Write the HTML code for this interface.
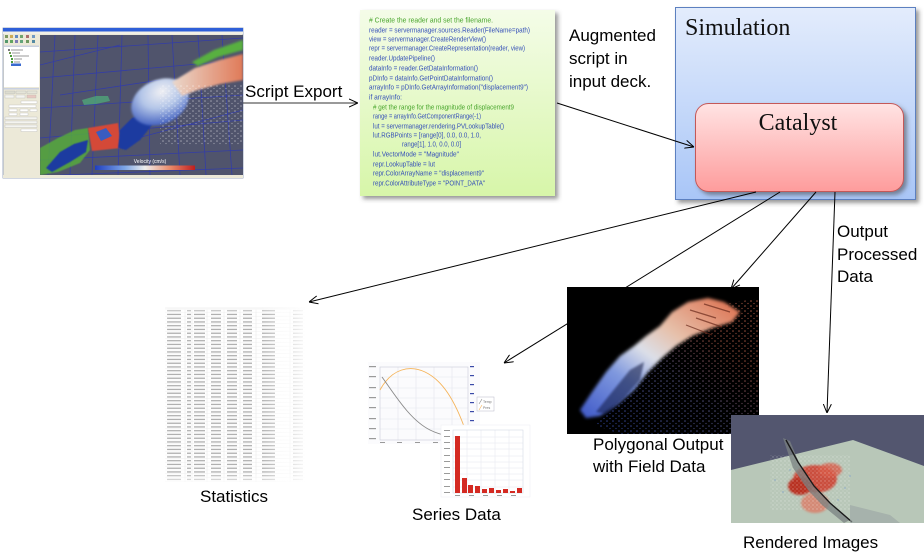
<!DOCTYPE html>
<html><head><meta charset="utf-8"><style>
html,body{margin:0;padding:0;background:#fff;}
svg{display:block;}
</style></head><body>
<svg width="924" height="558" viewBox="0 0 924 558" xmlns="http://www.w3.org/2000/svg">
<defs>
  <marker id="ah" viewBox="0 0 10 10" refX="10" refY="5" markerWidth="9" markerHeight="9" orient="auto" markerUnits="userSpaceOnUse">
    <path d="M0,0.5 L10,5 L0,9.5" fill="none" stroke="#000" stroke-width="1.1"/>
  </marker>
  <filter id="sh" x="-10%" y="-10%" width="130%" height="130%">
    <feDropShadow dx="3" dy="3" stdDeviation="2" flood-color="#444" flood-opacity="0.55"/>
  </filter>
  <filter id="b1"><feGaussianBlur stdDeviation="1"/></filter>
  <filter id="b15"><feGaussianBlur stdDeviation="1.6"/></filter>
  <filter id="b2"><feGaussianBlur stdDeviation="2"/></filter>
  <filter id="b05"><feGaussianBlur stdDeviation="0.4"/></filter>
  <linearGradient id="simG" x1="0" y1="0" x2="0" y2="1">
    <stop offset="0" stop-color="#e3ecfc"/><stop offset="1" stop-color="#a9c6f7"/>
  </linearGradient>
  <linearGradient id="catG" x1="0" y1="0" x2="0" y2="1">
    <stop offset="0" stop-color="#ffe3e3"/><stop offset="1" stop-color="#fe9c9c"/>
  </linearGradient>
  <linearGradient id="codeG" x1="0" y1="0" x2="0" y2="1">
    <stop offset="0" stop-color="#f4fce8"/><stop offset="1" stop-color="#d7f6a9"/>
  </linearGradient>
  <linearGradient id="velG" x1="0" y1="0" x2="1" y2="0">
    <stop offset="0" stop-color="#1f3fc0"/><stop offset="0.3" stop-color="#7ea6e6"/><stop offset="0.5" stop-color="#eeeeee"/><stop offset="0.75" stop-color="#e88a6a"/><stop offset="1" stop-color="#c01e1e"/>
  </linearGradient>
  <radialGradient id="domeG" cx="0.6" cy="0.3" r="0.8">
    <stop offset="0" stop-color="#f0f0f4"/><stop offset="0.45" stop-color="#b4c6e8"/><stop offset="1" stop-color="#2c4cb8"/>
  </radialGradient>
  <linearGradient id="topG" x1="0" y1="0" x2="1" y2="0">
    <stop offset="0" stop-color="#ead8cc"/><stop offset="1" stop-color="#e07a58"/>
  </linearGradient>
  <linearGradient id="polyG" x1="0" y1="1" x2="1" y2="0">
    <stop offset="0" stop-color="#3e58c8"/><stop offset="0.3" stop-color="#7f98de"/><stop offset="0.48" stop-color="#dcdfe8"/><stop offset="0.65" stop-color="#e6c0aa"/><stop offset="1" stop-color="#dc6a48"/>
  </linearGradient>
  <linearGradient id="dotG" x1="0" y1="1" x2="1" y2="0">
    <stop offset="0" stop-color="#3a58d0"/><stop offset="0.45" stop-color="#7070a8"/><stop offset="0.7" stop-color="#c86a54"/><stop offset="1" stop-color="#f08060"/>
  </linearGradient>
  <pattern id="dots" x="0" y="0" width="6" height="5" patternUnits="userSpaceOnUse">
    <circle cx="1" cy="1" r="0.8" fill="#fff"/><circle cx="4" cy="3.5" r="0.6" fill="#fff"/>
  </pattern>
  <pattern id="dots2" x="0" y="0" width="4" height="4" patternUnits="userSpaceOnUse">
    <circle cx="1" cy="1" r="0.7" fill="#fff"/><circle cx="3" cy="3" r="0.5" fill="#fff"/>
  </pattern>
  <mask id="dotMask"><polygon points="595,425 670,345 720,305 760,298 760,434 620,434" fill="url(#dots)"/></mask>
  <pattern id="rows" x="165" y="309" width="140" height="3.75" patternUnits="userSpaceOnUse">
    <rect x="0" y="3.2" width="140" height="0.5" fill="#efefef"/>
    <rect x="2" y="1.1" width="14" height="1.2" fill="#a8a8a8"/>
    <rect x="22" y="1.1" width="4" height="1.2" fill="#a8a8a8"/>
    <rect x="29" y="1.1" width="11" height="1.2" fill="#a8a8a8"/>
    <rect x="46" y="1.1" width="10" height="1.2" fill="#a8a8a8"/>
    <rect x="62" y="1.1" width="10" height="1.2" fill="#a8a8a8"/>
    <rect x="78" y="1.1" width="9" height="1.2" fill="#a8a8a8"/>
    <rect x="97" y="1.1" width="13" height="1.2" fill="#a8a8a8"/>
    <rect x="128" y="1.1" width="10" height="1.2" fill="#a8a8a8"/>
  </pattern>
  <linearGradient id="fadeH" x1="0" y1="0" x2="1" y2="0">
    <stop offset="0" stop-color="#fff" stop-opacity="0.6"/><stop offset="0.06" stop-color="#fff" stop-opacity="1"/><stop offset="0.68" stop-color="#fff" stop-opacity="1"/><stop offset="1" stop-color="#fff" stop-opacity="0"/>
  </linearGradient>
  <linearGradient id="fadeV" x1="0" y1="0" x2="0" y2="1">
    <stop offset="0" stop-color="#fff" stop-opacity="0.3"/><stop offset="0.05" stop-color="#fff" stop-opacity="1"/><stop offset="0.93" stop-color="#fff" stop-opacity="1"/><stop offset="1" stop-color="#fff" stop-opacity="0.2"/>
  </linearGradient>
  <mask id="tabMaskV"><rect x="160" y="305" width="150" height="180" fill="url(#fadeV)"/></mask>
  <mask id="tabMaskH"><rect x="160" y="305" width="150" height="180" fill="url(#fadeH)"/></mask>
  <clipPath id="viewClip"><rect x="40" y="35" width="203" height="140"/></clipPath>
  <clipPath id="blackClip"><rect x="567" y="287" width="192" height="147"/></clipPath>
  <clipPath id="rendClip"><rect x="731" y="415" width="193" height="108"/></clipPath>
</defs>

<!-- ================= Left screenshot ================= -->
<g>
  <rect x="3" y="28" width="240" height="150" fill="#ece9d8" stroke="#8a98b8" stroke-width="0.8"/>
  <rect x="3" y="28" width="240" height="3.5" fill="#2e5fd8"/>
  <rect x="3" y="31.5" width="240" height="2.5" fill="#f2f0e6"/>
  <g opacity="0.85">
    <rect x="5" y="35" width="3" height="3" fill="#6a8a4a"/><rect x="10" y="35" width="3" height="3" fill="#c8a040"/><rect x="15" y="35" width="3" height="3" fill="#4a7ac0"/><rect x="20" y="35" width="3" height="3" fill="#5a9a5a"/><rect x="26" y="35" width="3" height="3" fill="#a05a5a"/><rect x="32" y="35" width="3" height="3" fill="#5a8ac0"/>
    <rect x="5" y="40" width="3" height="3" fill="#3a8a5a"/><rect x="10" y="40" width="3" height="3" fill="#4a9a4a"/><rect x="15" y="40" width="3" height="3" fill="#6a6ab0"/><rect x="20" y="40" width="3" height="3" fill="#4a9a6a"/><rect x="26" y="40" width="3" height="3" fill="#5a8a4a"/><rect x="32" y="40" width="3" height="3" fill="#3a7a9a"/>
  </g>
  <rect x="4" y="45.5" width="35" height="1.5" fill="#c8d0e0"/>
  <rect x="4" y="47" width="35" height="40" fill="#ffffff"/>
  <rect x="8" y="49" width="2" height="2" fill="#7a7a7a"/><rect x="11" y="49.5" width="12" height="1" fill="#9a9a9a"/>
  <rect x="9" y="52" width="2" height="2" fill="#6a9a4a"/><rect x="12" y="52.5" width="8" height="1" fill="#9a9a9a"/>
  <rect x="10" y="55" width="2" height="2" fill="#4a9a3a"/><rect x="13" y="55.5" width="16" height="1" fill="#9a9a9a"/>
  <rect x="11" y="58" width="2" height="2" fill="#4a9a3a"/><rect x="14" y="58.5" width="8" height="1" fill="#9a9a9a"/>
  <rect x="11" y="61" width="2" height="2" fill="#4a9a3a"/><rect x="14" y="61.5" width="6" height="1" fill="#9a9a9a"/>
  <rect x="11" y="63.5" width="10" height="2.5" fill="#3a6ad0"/>
  <rect x="4" y="88" width="35" height="1.5" fill="#c8d0e0"/>
  <rect x="5" y="91" width="10" height="2.5" fill="#dcdcd0" stroke="#aaa" stroke-width="0.3"/><rect x="16" y="91" width="10" height="2.5" fill="#e4e4d8" stroke="#aaa" stroke-width="0.3"/><rect x="27" y="91" width="10" height="2.5" fill="#e4e4d8" stroke="#aaa" stroke-width="0.3"/>
  <rect x="5" y="95" width="9" height="3" fill="#f4f4f0" stroke="#aaa" stroke-width="0.3"/><rect x="16" y="95" width="9" height="3" fill="#f4f4f0" stroke="#aaa" stroke-width="0.3"/><rect x="27" y="95" width="9" height="3" fill="#e8c8c0" stroke="#aaa" stroke-width="0.3"/>
  <rect x="21" y="101" width="16" height="2.5" fill="#fff" stroke="#aaa" stroke-width="0.3"/>
  <rect x="9" y="105" width="27" height="2.5" fill="#fff" stroke="#aaa" stroke-width="0.3"/>
  <rect x="9" y="109" width="8" height="2.5" fill="#fff" stroke="#aaa" stroke-width="0.3"/><rect x="20" y="109" width="8" height="2.5" fill="#fff" stroke="#aaa" stroke-width="0.3"/><rect x="30" y="109" width="7" height="2.5" fill="#fff" stroke="#aaa" stroke-width="0.3"/>
  <rect x="9" y="113" width="8" height="2.5" fill="#fff" stroke="#aaa" stroke-width="0.3"/><rect x="20" y="113" width="8" height="2.5" fill="#fff" stroke="#aaa" stroke-width="0.3"/>
  <rect x="5" y="117" width="32" height="2.5" fill="#f4f4f0" stroke="#aaa" stroke-width="0.3"/>
  <rect x="5" y="121" width="32" height="2.5" fill="#f4f4f0" stroke="#aaa" stroke-width="0.3"/>
  <rect x="5" y="125" width="32" height="2.5" fill="#f4f4f0" stroke="#aaa" stroke-width="0.3"/>
  <rect x="21" y="129" width="16" height="2.5" fill="#fff" stroke="#aaa" stroke-width="0.3"/>
  <!-- 3D view -->
  <rect x="40" y="35" width="203" height="140" fill="#50546c"/>
  <g clip-path="url(#viewClip)">
    <g stroke="#2f3ab0" stroke-width="0.8" opacity="0.85" fill="none">
      <path d="M40,52 L243,38"/><path d="M40,78 L243,60"/><path d="M40,108 L243,95"/><path d="M40,138 L243,120"/><path d="M40,160 L243,150"/><path d="M60,175 L243,168"/>
      <path d="M55,35 L48,175"/><path d="M75,35 L70,175"/><path d="M98,35 L92,175"/><path d="M122,35 L118,175"/><path d="M148,35 L150,175"/><path d="M172,35 L180,175"/><path d="M198,35 L206,175"/><path d="M222,35 L232,175"/>
      <path d="M40,65 L120,45"/><path d="M130,140 L243,110"/><path d="M60,95 L160,80"/>
    </g>
    <!-- green particle region -->
    <polygon points="40,148 58,138 75,130 88,128 90,150 80,163 58,172 40,175" fill="#56aa3e" opacity="0.85" filter="url(#b05)"/>
    <polygon points="46,168 60,152 74,144 88,140 86,152 70,162 52,172" fill="#1e3aa0" filter="url(#b05)"/>
    <polygon points="82,100 96,96 108,96 110,101 96,104 84,105" fill="#4eb07a" opacity="0.7"/>
    <polygon points="88,128 118,123 121,148 92,151" fill="#d44838" filter="url(#b05)"/>
    <polygon points="96,132 106,128 112,136 101,141" fill="#3a5cc0"/>
    <polygon points="118,148 120,130 132,118 148,112 152,125 140,140 126,150" fill="#1e3aa0" filter="url(#b05)"/>
    <!-- dome -->
    <ellipse cx="160" cy="102" rx="30" ry="22" fill="url(#domeG)" transform="rotate(-25 160 102)" filter="url(#b1)"/>
    <!-- orange/white top -->
    <polygon points="172,82 195,68 220,60 243,54 243,80 220,84 198,90 182,96" fill="url(#topG)" filter="url(#b1)"/>
    <polygon points="192,62 214,50 243,40 243,50 218,57 198,66" fill="#58b040" filter="url(#b1)"/>
    <rect x="160" y="85" width="83" height="60" fill="url(#dots)" opacity="0.45"/>
  </g>
  <rect x="95" y="165.5" width="100" height="4.5" fill="url(#velG)"/>
  <text x="150" y="163" font-family="Liberation Sans, sans-serif" font-size="5" fill="#fff" text-anchor="middle">Velocity (cm/s)</text>
  <rect x="3" y="175" width="240" height="3" fill="#ece9d8"/>
</g>

<!-- ================= Code box ================= -->
<rect x="360" y="10" width="195" height="186" fill="url(#codeG)" filter="url(#sh)"/>
<g font-family="Liberation Sans, sans-serif" font-size="7" fill="#3550b8">
  <text x="369" y="22.5" fill="#4aa62e" textLength="124" lengthAdjust="spacingAndGlyphs"># Create the reader and set the filename.</text>
  <text x="369" y="32.5" textLength="161" lengthAdjust="spacingAndGlyphs">reader = servermanager.sources.Reader(FileName=path)</text>
  <text x="369" y="41.5" textLength="117" lengthAdjust="spacingAndGlyphs">view = servermanager.CreateRenderView()</text>
  <text x="369" y="50.5" textLength="156" lengthAdjust="spacingAndGlyphs">repr = servermanager.CreateRepresentation(reader, view)</text>
  <text x="369" y="60.5" textLength="66" lengthAdjust="spacingAndGlyphs">reader.UpdatePipeline()</text>
  <text x="369" y="70.5" textLength="109" lengthAdjust="spacingAndGlyphs">dataInfo = reader.GetDataInformation()</text>
  <text x="369" y="80.5" textLength="124" lengthAdjust="spacingAndGlyphs">pDInfo = dataInfo.GetPointDataInformation()</text>
  <text x="369" y="89.5" textLength="159" lengthAdjust="spacingAndGlyphs">arrayInfo = pDInfo.GetArrayInformation("displacement9")</text>
  <text x="369" y="99.5" textLength="33" lengthAdjust="spacingAndGlyphs">if arrayInfo:</text>
  <text x="373" y="109.5" fill="#4aa62e" textLength="141" lengthAdjust="spacingAndGlyphs"># get the range for the magnitude of displacement9</text>
  <text x="373" y="118.5" textLength="108" lengthAdjust="spacingAndGlyphs">range = arrayInfo.GetComponentRange(-1)</text>
  <text x="373" y="128.5" textLength="131" lengthAdjust="spacingAndGlyphs">lut = servermanager.rendering.PVLookupTable()</text>
  <text x="373" y="137.5" textLength="108" lengthAdjust="spacingAndGlyphs">lut.RGBPoints  = [range[0], 0.0, 0.0, 1.0,</text>
  <text x="402" y="146.5" textLength="59" lengthAdjust="spacingAndGlyphs">range[1], 1.0, 0.0, 0.0]</text>
  <text x="373" y="156.5" textLength="86" lengthAdjust="spacingAndGlyphs">lut.VectorMode = "Magnitude"</text>
  <text x="373" y="166.5" textLength="62" lengthAdjust="spacingAndGlyphs">repr.LookupTable = lut</text>
  <text x="373" y="175.5" textLength="111" lengthAdjust="spacingAndGlyphs">repr.ColorArrayName = "displacement9"</text>
  <text x="373" y="185.5" textLength="112" lengthAdjust="spacingAndGlyphs">repr.ColorAttributeType = "POINT_DATA"</text>
</g>

<!-- ================= Simulation / Catalyst ================= -->
<rect x="675.5" y="7.5" width="240" height="192" fill="url(#simG)" stroke="#5b80c0" stroke-width="1" filter="url(#sh)"/>
<text x="685" y="35" font-family="Liberation Serif, serif" font-size="24" fill="#111">Simulation</text>
<rect x="695.5" y="103.5" width="208" height="88" rx="13" ry="13" fill="url(#catG)" stroke="#c45858" stroke-width="1" filter="url(#sh)"/>
<text x="798" y="130" font-family="Liberation Serif, serif" font-size="24" fill="#111" text-anchor="middle">Catalyst</text>

<!-- ================= Connectors ================= -->
<g stroke="#000" stroke-width="1" fill="none">
  <line x1="243" y1="103" x2="358" y2="103" stroke="#333" marker-end="url(#ah)"/>
  <line x1="557" y1="103" x2="694" y2="147" marker-end="url(#ah)"/>
  <line x1="756" y1="192" x2="309" y2="302" marker-end="url(#ah)"/>
  <line x1="780" y1="192" x2="504" y2="363" marker-end="url(#ah)"/>
  <line x1="816" y1="192" x2="731" y2="289" marker-end="url(#ah)"/>
  <line x1="835" y1="192" x2="827" y2="413" marker-end="url(#ah)"/>
</g>

<!-- ================= Statistics table ================= -->
<g mask="url(#tabMaskV)">
  <g mask="url(#tabMaskH)">
    <rect x="165" y="307" width="140" height="2.5" fill="#f0f0f0"/>
    <rect x="165" y="309" width="140" height="173" fill="url(#rows)"/>
    <g stroke="#e6e6e6" stroke-width="0.5">
      <line x1="185" y1="309" x2="185" y2="482"/><line x1="192" y1="309" x2="192" y2="482"/><line x1="207" y1="309" x2="207" y2="482"/><line x1="224" y1="309" x2="224" y2="482"/><line x1="240" y1="309" x2="240" y2="482"/><line x1="256" y1="309" x2="256" y2="482"/><line x1="290" y1="309" x2="290" y2="482"/>
    </g>
  </g>
</g>

<!-- ================= Series chart ================= -->
<g>
  <rect x="368" y="362" width="112" height="82" fill="#fbfbfd"/>
  <g stroke="#e4e6ee" stroke-width="0.6">
    <line x1="380" y1="377" x2="468" y2="377"/><line x1="380" y1="388" x2="468" y2="388"/><line x1="380" y1="398" x2="468" y2="398"/><line x1="380" y1="408" x2="468" y2="408"/><line x1="380" y1="419" x2="468" y2="419"/><line x1="380" y1="429" x2="468" y2="429"/>
    <line x1="398" y1="367" x2="398" y2="440"/><line x1="416" y1="367" x2="416" y2="440"/><line x1="434" y1="367" x2="434" y2="440"/><line x1="452" y1="367" x2="452" y2="440"/>
  </g>
  <rect x="380" y="367" width="88" height="73" fill="none" stroke="#c8ccd8" stroke-width="0.6"/>
  <g fill="#9a9a9a">
    <rect x="369" y="366" width="7" height="1.2"/><rect x="369" y="376" width="7" height="1.2"/><rect x="369" y="387" width="7" height="1.2"/><rect x="369" y="397" width="7" height="1.2"/><rect x="369" y="407" width="7" height="1.2"/><rect x="369" y="418" width="7" height="1.2"/><rect x="369" y="428" width="7" height="1.2"/><rect x="369" y="438" width="7" height="1.2"/>
    <rect x="380" y="442" width="5" height="1"/><rect x="397" y="442" width="5" height="1"/><rect x="415" y="442" width="5" height="1"/><rect x="433" y="442" width="5" height="1"/>
  </g>
  <g fill="#3a4aa8">
    <rect x="470" y="366" width="4" height="1.2"/><rect x="470" y="375" width="4" height="1.2"/><rect x="470" y="384" width="4" height="1.2"/><rect x="470" y="393" width="4" height="1.2"/><rect x="470" y="402" width="4" height="1.2"/><rect x="470" y="411" width="4" height="1.2"/><rect x="470" y="420" width="4" height="1.2"/>
  </g>
  <path d="M380,390 C392,368 410,365 425,372 C442,380 455,400 466,432" fill="none" stroke="#f5b45a" stroke-width="0.9"/>
  <path d="M382,377 C395,395 410,420 430,430 C440,435 448,436 452,437" fill="none" stroke="#8a8a8a" stroke-width="0.9"/>
  <rect x="477" y="397" width="17" height="14" fill="#fff" stroke="#b8b8c8" stroke-width="0.5"/>
  <line x1="479" y1="404" x2="482" y2="399" stroke="#888" stroke-width="0.6"/>
  <line x1="479" y1="410" x2="482" y2="405" stroke="#f5b45a" stroke-width="0.6"/>
  <text x="483" y="403" font-family="Liberation Sans, sans-serif" font-size="3.5" fill="#777">Temp</text>
  <text x="483" y="409" font-family="Liberation Sans, sans-serif" font-size="3.5" fill="#777">Pres</text>
  <rect x="441" y="425" width="89" height="72" fill="#fff" stroke="#eef0f4" stroke-width="0.6"/>
  <g stroke="#e4e6ee" stroke-width="0.5">
    <line x1="453" y1="437" x2="523" y2="437"/><line x1="453" y1="443" x2="523" y2="443"/><line x1="453" y1="449" x2="523" y2="449"/><line x1="453" y1="456" x2="523" y2="456"/><line x1="453" y1="462" x2="523" y2="462"/><line x1="453" y1="468" x2="523" y2="468"/><line x1="453" y1="474" x2="523" y2="474"/><line x1="453" y1="480" x2="523" y2="480"/><line x1="453" y1="487" x2="523" y2="487"/>
    <line x1="467" y1="430" x2="467" y2="493"/><line x1="481" y1="430" x2="481" y2="493"/><line x1="495" y1="430" x2="495" y2="493"/><line x1="509" y1="430" x2="509" y2="493"/>
  </g>
  <rect x="453" y="430" width="70" height="63" fill="none" stroke="#ccd2e0" stroke-width="0.5"/>
  <g fill="#9a9a9a">
    <rect x="444" y="430" width="6" height="1"/><rect x="444" y="436" width="6" height="1"/><rect x="444" y="442" width="6" height="1"/><rect x="444" y="448" width="6" height="1"/><rect x="444" y="455" width="6" height="1"/><rect x="444" y="461" width="6" height="1"/><rect x="444" y="467" width="6" height="1"/><rect x="444" y="473" width="6" height="1"/><rect x="444" y="479" width="6" height="1"/><rect x="444" y="486" width="6" height="1"/><rect x="444" y="492" width="6" height="1"/>
    <rect x="455" y="495" width="5" height="1"/><rect x="469" y="495" width="5" height="1"/><rect x="483" y="495" width="5" height="1"/><rect x="497" y="495" width="5" height="1"/><rect x="511" y="495" width="5" height="1"/>
  </g>
  <g fill="#d42a22">
    <rect x="455" y="436" width="5" height="57"/>
    <rect x="462" y="478" width="5" height="15"/>
    <rect x="468" y="485" width="5" height="8"/>
    <rect x="475" y="486" width="5" height="7"/>
    <rect x="482" y="489" width="5" height="4"/>
    <rect x="489" y="488" width="5" height="5"/>
    <rect x="496" y="490" width="5" height="3"/>
    <rect x="503" y="489" width="5" height="4"/>
    <rect x="510" y="491" width="5" height="2"/>
    <rect x="517" y="488" width="5" height="5"/>
  </g>
</g>

<!-- ================= Polygonal output (black) ================= -->
<rect x="567" y="287" width="192" height="147" fill="#000"/>
<g clip-path="url(#blackClip)">
  <rect x="590" y="295" width="170" height="139" fill="url(#dotG)" mask="url(#dotMask)" opacity="0.7"/>
  <polygon points="580,410 592,392 606,372 620,356 634,346 646,336 660,326 672,312 688,302 708,298 724,302 740,312 732,322 712,328 692,336 676,346 662,358 648,372 634,390 618,404 600,416 586,418" fill="url(#polyG)" filter="url(#b15)"/>
  <polygon points="596,412 612,392 630,370 644,362 640,380 624,398 606,414" fill="#0a1440" opacity="0.55" filter="url(#b1)"/>
  <g stroke="#6a2a1c" stroke-width="1.2" opacity="0.7">
    <line x1="690" y1="310" x2="716" y2="318"/><line x1="696" y1="318" x2="722" y2="327"/><line x1="686" y1="325" x2="712" y2="335"/><line x1="704" y1="304" x2="730" y2="312"/>
  </g>
</g>

<!-- ================= Rendered images ================= -->
<g clip-path="url(#rendClip)">
  <rect x="731" y="415" width="193" height="108" fill="#53566f"/>
  <polygon points="731,470 853,440 924,466 924,523 731,523" fill="#b8c7b8"/>
  <g filter="url(#b1)">
    <ellipse cx="815" cy="479" rx="22" ry="14" fill="#cc4030" opacity="0.9"/>
    <ellipse cx="800" cy="486" rx="12" ry="9" fill="#b83024"/>
    <ellipse cx="830" cy="470" rx="12" ry="7" fill="#d85a48" opacity="0.8"/>
    <ellipse cx="815" cy="503" rx="14" ry="10" fill="#e07058" opacity="0.7"/>
  </g>
  <rect x="770" y="455" width="80" height="55" fill="url(#dots2)" opacity="0.35"/>
  <g fill="#8aa8c8" opacity="0.6">
    <circle cx="775" cy="480" r="1"/><circle cx="783" cy="492" r="1"/><circle cx="845" cy="488" r="1"/><circle cx="850" cy="476" r="1"/><circle cx="838" cy="500" r="1"/><circle cx="790" cy="470" r="1"/>
  </g>
  <polygon points="783,438 790,441 800,465 815,488 828,502 850,520 844,523 822,505 808,490 793,468" fill="#7a8282" opacity="0.75"/>
  <path d="M786,440 L798,462 L814,486 L830,503 L852,522" stroke="#1a1a1a" stroke-width="1.4" fill="none"/>
  <polygon points="850,505 890,515 900,523 850,523" fill="#9aa4a4" opacity="0.6"/>
</g>

<!-- ================= Labels ================= -->
<g font-family="Liberation Sans, sans-serif" font-size="17" fill="#000">
  <text x="245" y="97">Script Export</text>
  <text x="569" y="41">Augmented</text>
  <text x="569" y="64">script in</text>
  <text x="569" y="87">input deck.</text>
  <text x="837" y="237">Output</text>
  <text x="837" y="260">Processed</text>
  <text x="837" y="282">Data</text>
  <text x="200" y="502">Statistics</text>
  <text x="412" y="520">Series Data</text>
  <text x="593" y="450">Polygonal Output</text>
  <text x="593" y="472">with Field Data</text>
  <text x="743" y="548">Rendered Images</text>
</g>
</svg>
</body></html>
